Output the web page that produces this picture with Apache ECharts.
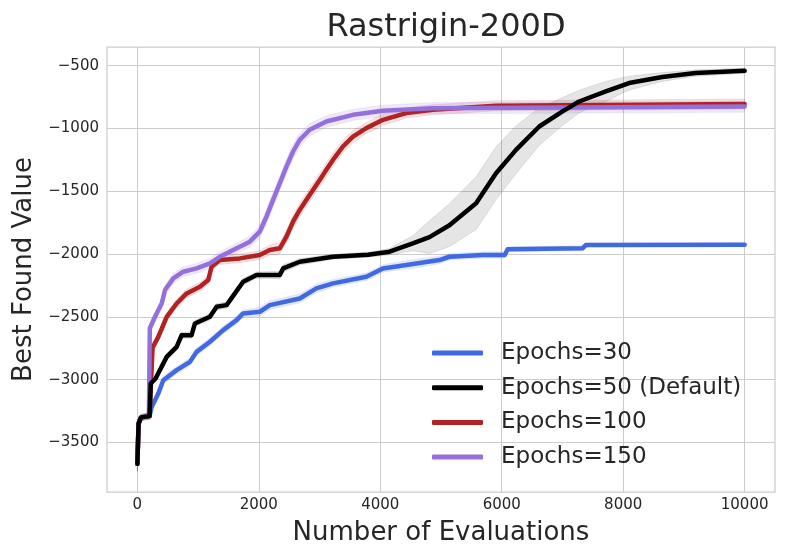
<!DOCTYPE html>
<html>
<head>
<meta charset="utf-8">
<script src="https://cdn.jsdelivr.net/npm/echarts@6/dist/echarts.min.js"></script>
<style>html,body{margin:0;padding:0;background:#fff}#c{width:788px;height:560px}</style>
</head>
<body>
<div id="c"></div>
<script>
const seriesNames = ['Epochs=30', 'Epochs=50 (Default)', 'Epochs=100', 'Epochs=150'];
const xTicks = [0, 2000, 4000, 6000, 8000, 10000];
const yTicks = [-3500, -3000, -2500, -2000, -1500, -1000, -500];

const x30 = [0, 20, 60, 200, 236, 345, 427, 647, 866, 976, 1195, 1413, 1634, 1742, 2016, 2181, 2674, 2948, 3221, 3770, 4044, 4592, 4975, 5139, 5686, 6050, 6097, 7330, 7385, 10000];
const y30 = [-3670, -3350, -3300, -3290, -3217, -3110, -3004, -2924, -2858, -2778, -2698, -2605, -2526, -2472, -2459, -2406, -2353, -2273, -2233, -2180, -2114, -2074, -2047, -2021, -2007, -2007, -1962, -1954, -1928, -1925];
const s30 = [60, 30, 25, 25, 30, 30, 30, 30, 30, 30, 30, 30, 30, 30, 35, 35, 35, 35, 30, 30, 30, 35, 30, 25, 25, 25, 20, 20, 15, 15];

const x50 = [0, 20, 60, 200, 220, 300, 483, 647, 729, 893, 948, 1195, 1305, 1469, 1606, 1742, 1962, 2345, 2400, 2674, 3221, 3800, 4153, 4536, 4810, 5139, 5578, 5906, 6235, 6618, 7001, 7275, 7714, 8097, 8644, 9193, 10000];
const y50 = [-3670, -3350, -3300, -3290, -3030, -2990, -2818, -2738, -2645, -2645, -2552, -2499, -2419, -2406, -2313, -2220, -2167, -2167, -2114, -2061, -2021, -2005, -1981, -1914, -1865, -1770, -1595, -1356, -1170, -984, -864, -785, -705, -638, -590, -558, -540];
const s50 = [60, 30, 25, 25, 25, 25, 25, 25, 25, 25, 25, 25, 25, 25, 25, 25, 25, 30, 30, 25, 20, 20, 25, 60, 130, 170, 210, 210, 190, 150, 110, 90, 80, 55, 35, 25, 20];

const x100 = [0, 20, 60, 200, 230, 250, 345, 483, 647, 812, 1030, 1167, 1222, 1359, 1688, 2016, 2181, 2345, 2455, 2564, 2674, 2784, 2892, 3003, 3112, 3221, 3385, 3550, 3770, 4044, 4427, 4865, 5906, 10000];
const y100 = [-3670, -3350, -3300, -3290, -3285, -2745, -2659, -2499, -2393, -2313, -2260, -2207, -2100, -2047, -2034, -2007, -1967, -1954, -1861, -1742, -1648, -1568, -1489, -1409, -1329, -1250, -1143, -1064, -997, -931, -877, -851, -819, -805];
const s100 = [60, 30, 25, 25, 25, 40, 35, 35, 35, 35, 35, 35, 35, 35, 35, 35, 40, 45, 50, 55, 55, 55, 55, 55, 55, 55, 50, 50, 45, 45, 40, 40, 40, 40];

const x150 = [0, 20, 60, 190, 205, 291, 401, 455, 592, 756, 976, 1195, 1359, 1578, 1852, 2016, 2126, 2235, 2345, 2455, 2564, 2674, 2838, 3112, 3550, 4044, 4865, 10000];
const y150 = [-3670, -3350, -3300, -3290, -2590, -2499, -2393, -2286, -2193, -2140, -2114, -2074, -2021, -1967, -1901, -1821, -1702, -1568, -1436, -1303, -1183, -1090, -1010, -944, -891, -859, -838, -825];
const s150 = [60, 30, 25, 25, 40, 40, 40, 40, 40, 40, 40, 40, 40, 40, 45, 50, 60, 60, 60, 60, 60, 55, 50, 45, 45, 45, 45, 45];

const colors = ['#4169E1', '#000000', '#B22222', '#9370DB'];
const bandFill = ['rgba(65,105,225,0.14)', 'rgba(0,0,0,0.10)', 'rgba(178,34,34,0.13)', 'rgba(147,112,219,0.16)'];
const bandEdge = ['rgba(65,105,225,0.10)', 'rgba(0,0,0,0.10)', 'rgba(178,34,34,0.10)', 'rgba(147,112,219,0.10)'];

const all = [[x30, y30, s30], [x50, y50, s50], [x100, y100, s100], [x150, y150, s150]];
const FONT = 'DejaVu Sans';
const TXT = '#262626';

function band(i) {
  const [xs, ys, ss] = all[i];
  return {
    type: 'custom', name: seriesNames[i] + ' band', z: 1, silent: true,
    data: [[xs[0], ys[0]]],
    renderItem: function (params, api) {
      const up = xs.map((x, k) => api.coord([x, ys[k] + ss[k]]));
      const lo = xs.map((x, k) => api.coord([x, ys[k] - ss[k]])).reverse();
      return { type: 'polygon', shape: { points: up.concat(lo) },
        style: { fill: bandFill[i], stroke: bandEdge[i], lineWidth: 1 } };
    }
  };
}
function line(i) {
  const [xs, ys] = all[i];
  return {
    type: 'line', name: seriesNames[i], z: 3, showSymbol: false, symbol: 'none',
    data: xs.map((x, k) => [x, ys[k]]),
    lineStyle: { color: colors[i], width: 4.5, cap: 'round', join: 'round' },
    itemStyle: { color: colors[i] }
  };
}

const fmt = v => String(v).replace('-', '\u2212');
const chart = echarts.init(document.getElementById('c'), null, { renderer: 'canvas' });
chart.setOption({
  animation: false,
  backgroundColor: '#ffffff',
  title: { text: 'Rastrigin-200D', left: 441, top: 7, textAlign: 'center',
    textStyle: { fontFamily: FONT, fontSize: 32, fontWeight: 'normal', color: TXT } },
  grid: { left: 107, right: 13, top: 47, bottom: 68, show: true, borderColor: '#cccccc', borderWidth: 1.25 },
  legend: {
    data: seriesNames, orient: 'vertical', left: 427, top: 336.5, selectedMode: false,
    icon: 'roundRect', itemWidth: 51, itemHeight: 5, itemGap: 11.7,
    textStyle: { fontFamily: FONT, fontSize: 23, color: TXT, lineHeight: 23, padding: [0, 0, 0, 13] }
  },
  xAxis: {
    type: 'value', min: -500, max: 10500,
    name: 'Number of Evaluations', nameLocation: 'middle', nameGap: 28,
    nameTextStyle: { fontFamily: FONT, fontSize: 26, color: TXT },
    axisLine: { show: false }, axisTick: { show: false, customValues: xTicks },
    axisLabel: { customValues: xTicks, formatter: fmt, fontFamily: FONT, fontSize: 15, color: TXT, margin: 6 },
    splitLine: { show: true, lineStyle: { color: '#cccccc', width: 1 } }
  },
  yAxis: {
    type: 'value', min: -3894, max: -351,
    name: 'Best Found Value', nameLocation: 'middle', nameGap: 66,
    nameTextStyle: { fontFamily: FONT, fontSize: 26, color: TXT },
    axisLine: { show: false }, axisTick: { show: false, customValues: yTicks },
    axisLabel: { customValues: yTicks, formatter: fmt, fontFamily: FONT, fontSize: 15, color: TXT, margin: 8 },
    splitLine: { show: true, lineStyle: { color: '#cccccc', width: 1 } }
  },
  series: [band(0), band(1), band(2), band(3), line(0), line(2), line(3), line(1)]
});
</script>
</body>
</html>
